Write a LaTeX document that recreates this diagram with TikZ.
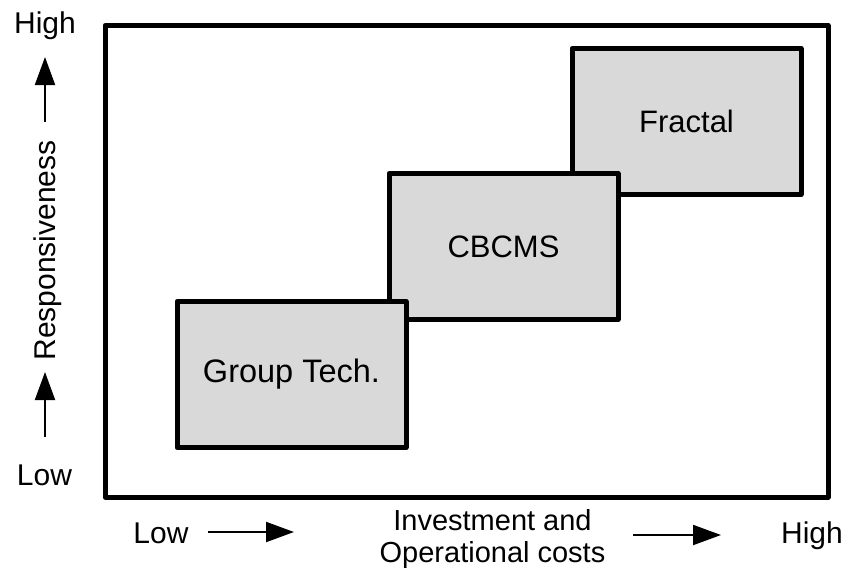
\documentclass[tikz,border=0pt]{standalone}
\usepackage{fontspec}
\setmainfont{Liberation Sans}
\usetikzlibrary{arrows.meta}
\begin{document}
\begin{tikzpicture}[x=1pt,y=-1pt,
  frameline/.style={line width=5pt,line join=round},
  stage/.style={draw,line width=5pt,line join=round,fill=black!15,
    minimum width=229pt,minimum height=146pt,inner sep=0pt,
    font=\fontsize{31}{36}\selectfont},
  axislabel/.style={anchor=base,inner sep=0pt,font=\fontsize{30}{36}\selectfont},
  axisarrow/.style={line width=2pt,-{Triangle[length=28pt,width=20pt]}}]
  \useasboundingbox (0,0) rectangle (848,571);

  % plotting frame
  \draw[frameline] (105,25.5) rectangle (828,497);

  % the three stages, from back to front
  \node[stage] (fractal) at (686.5,121.5) {Fractal};
  \node[stage] (cbcms) at (503.5,246.5) {CBCMS};
  \node[stage,font=\fontsize{32.5}{38}\selectfont] (gt) at (291.5,374.5) {Group Tech.};

  % vertical axis
  \node[axislabel] (yhigh) at (45,33) {High};
  \node[axislabel] (ylow) at (44.5,485) {Low};
  \node[inner sep=0pt,rotate=90,font=\fontsize{30}{36}\selectfont] (yname) at (48,250.5) {Responsiveness};
  \coordinate (ya1) at (45,122);
  \coordinate (ya2) at (45,57);
  \coordinate (yb1) at (45,437);
  \coordinate (yb2) at (45,372);
  \draw[axisarrow] (ya1) -- (ya2);
  \draw[axisarrow] (yb1) -- (yb2);

  % horizontal axis
  \node[axislabel] (xlow) at (161,543) {Low};
  \node[axislabel] (xhigh) at (812,543) {High};
  \node[axislabel,font=\fontsize{29}{34}\selectfont] (xname1) at (492.5,530) {Investment and};
  \node[axislabel,font=\fontsize{29}{34}\selectfont] (xname2) at (492.5,562) {Operational costs};
  \coordinate (xa1) at (208,532);
  \coordinate (xa2) at (294,532);
  \coordinate (xb1) at (633,535);
  \coordinate (xb2) at (721,535);
  \draw[axisarrow] (xa1) -- (xa2);
  \draw[axisarrow] (xb1) -- (xb2);
\end{tikzpicture}
\end{document}
